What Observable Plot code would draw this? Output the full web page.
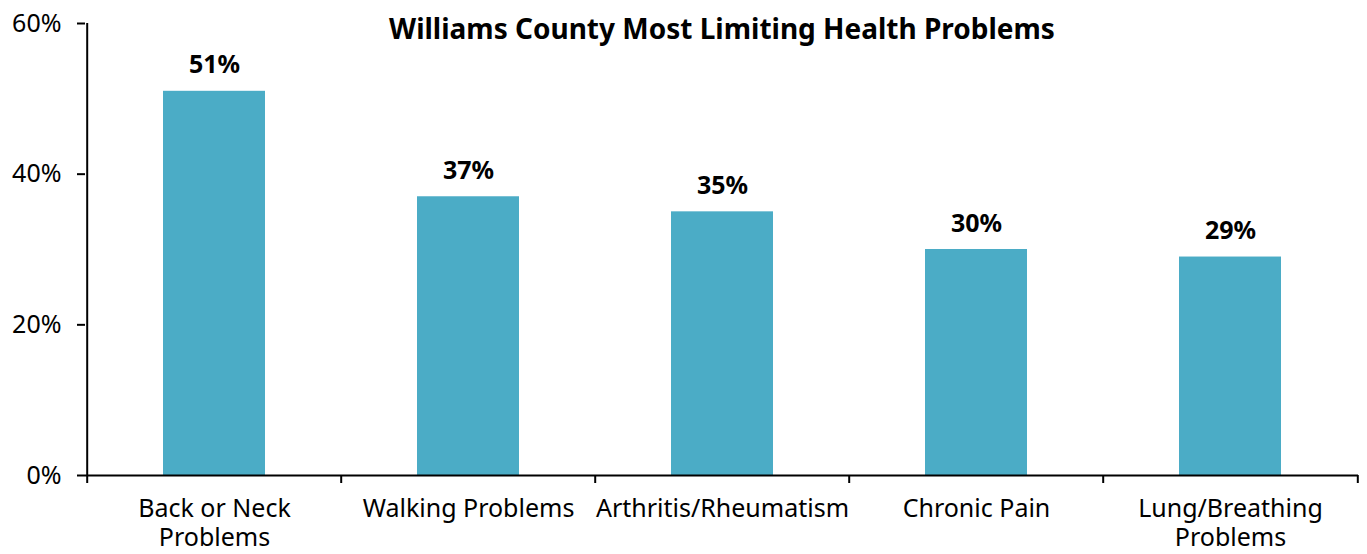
<!DOCTYPE html>
<html>
<head>
<meta charset="utf-8">
<script src="https://cdn.jsdelivr.net/npm/d3@7"></script>
<script src="https://cdn.jsdelivr.net/npm/@observablehq/plot@0.6"></script>
<style>
  html, body { margin: 0; padding: 0; background: #fff; }
  #chart svg { display: block; }
</style>
</head>
<body>
<div id="chart"></div>
<script>
const title = "Williams County Most Limiting Health Problems";
const categories = ["Back or Neck Problems", "Walking Problems", "Arthritis/Rheumatism", "Chronic Pain", "Lung/Breathing Problems"];
const tickLabels = ["Back or Neck\nProblems", "Walking Problems", "Arthritis/Rheumatism", "Chronic Pain", "Lung/Breathing\nProblems"];
const values = [51, 37, 35, 30, 29];
const yTicks = [0, 20, 40, 60];

const data = categories.map((c, i) => ({category: c, value: values[i]}));

const W = 1367, H = 554;
const mL = 85, mR = 9, mT = 23, mB = 79;
const step = (W - mL - mR) / categories.length;
const font = "'Noto Sans', 'Open Sans', sans-serif";

const chart = Plot.plot({
  width: W,
  height: H,
  marginLeft: mL,
  marginRight: mR,
  marginTop: mT,
  marginBottom: mB,
  style: {fontFamily: font, background: "#fff", color: "#000"},
  x: {domain: categories, paddingInner: 0.6, paddingOuter: 0.3, align: 0.5},
  y: {domain: [0, 60]},
  marks: [
    Plot.barY(data, {x: "category", y: "value", fill: "#4BACC6"}),
    Plot.text(data, {x: "category", y: "value", text: d => d.value + "%", dy: -26, fontSize: 25, fontWeight: "bold", fill: "#000"}),
    Plot.axisY({ticks: yTicks, tickFormat: d => d + "%", tickSize: 8, tickPadding: 16, fontSize: 25, stroke: "#000", strokeWidth: 2, strokeOpacity: 1, fill: "#000", label: null}),
    Plot.axisX({tickSize: 0, tickPadding: 21, fontSize: 25, lineHeight: 1.16, tickFormat: (d) => tickLabels[categories.indexOf(d)], fill: "#000", label: null}),
    Plot.ruleY([0], {stroke: "#000", strokeWidth: 2}),
    Plot.ruleX([categories[0]], {x: d => d, dx: -step / 2, stroke: "#000", strokeWidth: 2}),
    Plot.ruleX(categories, {x: d => d, y1: 0, y2: 0, dx: -step / 2, insetBottom: -8, stroke: "#000", strokeWidth: 2}),
    Plot.ruleX([categories[categories.length - 1]], {x: d => d, y1: 0, y2: 0, dx: step / 2, insetBottom: -8, stroke: "#000", strokeWidth: 2}),
    Plot.text([title], {text: d => d, frameAnchor: "top", dy: 7, lineAnchor: "middle", fontSize: 28, fontWeight: "bold", fill: "#000"})
  ]
});

document.getElementById("chart").appendChild(chart);
</script>
</body>
</html>
